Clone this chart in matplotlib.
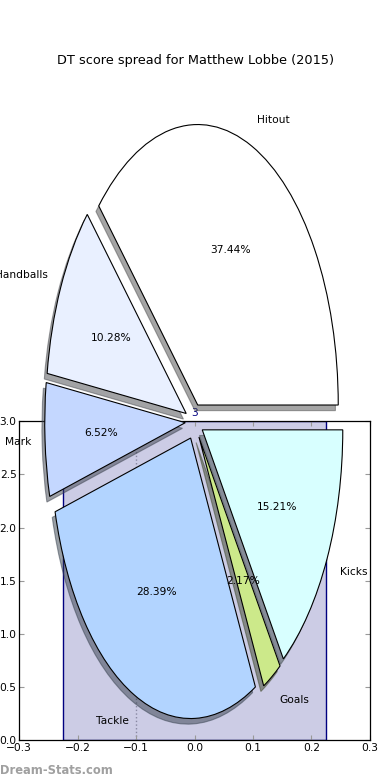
import matplotlib
matplotlib.use("Agg")
import matplotlib.pyplot as plt
from matplotlib.patches import Wedge
from matplotlib.colors import to_rgb

# pie data (counter-clockwise from 0 degrees)
categories = ["Hitout", "Handballs", "Mark", "Tackle", "Goals", "Kicks"]
shares = [37.44, 10.28, 6.52, 28.39, 2.17, 15.21]
wedgeColors = ["#ffffff", "#e9f0ff", "#c4d7ff", "#b2d4ff", "#cce98a", "#d8ffff"]

# bar behind the pie
barX = [0.0]
barHeights = [3]
barLabels = ["3"]

xTicks = [-0.3, -0.2, -0.1, 0.0, 0.1, 0.2, 0.3]
yTicks = [0.0, 0.5, 1.0, 1.5, 2.0, 2.5, 3.0]

FS = 7.7

fig = plt.figure(figsize=(3.9, 7.8), dpi=100)

# main axes with bar
ax = fig.add_axes([0.0495, 0.0513, 0.899, 0.4086])
ax.bar(barX, barHeights, width=0.45, align="center",
       facecolor=(0, 0, 0.5, 0.2), edgecolor="navy", linewidth=1.0, zorder=1)
for x, h, lab in zip(barX, barHeights, barLabels):
    ax.text(x, h + 0.03, lab, ha="center", va="bottom", color="navy",
            fontsize=FS, clip_on=False)
ax.axvline(-0.1, color="#aaaaaa", linestyle=":", linewidth=1.0, zorder=0.5)
ax.set_xlim(-0.3, 0.3)
ax.set_ylim(0, 3.0)
ax.set_xticks(xTicks)
ax.set_yticks(yTicks)
ax.set_xticklabels(["\u22120.3", "\u22120.2", "\u22120.1", "0.0", "0.1", "0.2", "0.3"])
ax.tick_params(direction="in", length=3.5, width=0.8, color="#999999",
               labelsize=FS, top=True, right=True, pad=2)
for s in ax.spines.values():
    s.set_linewidth(0.9)

# pie on its own stretched axes
axPie = fig.add_axes([0.0477, 0.01, 0.9008, 0.899], zorder=5)
axPie.patch.set_visible(False)
wedges, texts, autotexts = axPie.pie(
    shares, labels=categories, colors=wedgeColors, explode=[0.064] * len(shares),
    autopct="%.2f%%", startangle=0, labeldistance=1.1, pctdistance=0.6,
    wedgeprops={"linewidth": 0.8, "edgecolor": "black"},
    textprops={"fontsize": FS})
axPie.set_aspect("auto")
axPie.set_xlim(-1.25, 1.25)
axPie.set_ylim(-1.25, 1.25)
axPie.axis("off")

# classic style shadows, offset in data units
for w in wedges:
    c = [0.3 * v for v in to_rgb(w.get_facecolor())]
    sh = Wedge((w.center[0] - 0.02, w.center[1] - 0.02), w.r, w.theta1, w.theta2,
               facecolor=c, edgecolor=c, alpha=0.5, linewidth=0.8,
               zorder=w.get_zorder() - 0.1)
    axPie.add_patch(sh)
for w in wedges:
    w.set_clip_on(False)

fig.text(0.501, 1 - 60.7 / 780, "DT score spread for Matthew Lobbe (2015)",
         ha="center", va="center", fontsize=9.3)
fig.text(0.0, 0.0125, "Dream-Stats.com", ha="left", va="center",
         fontsize=8.3, color="#a0a0a0", fontweight="bold")

fig.savefig("out.png", dpi=100)
